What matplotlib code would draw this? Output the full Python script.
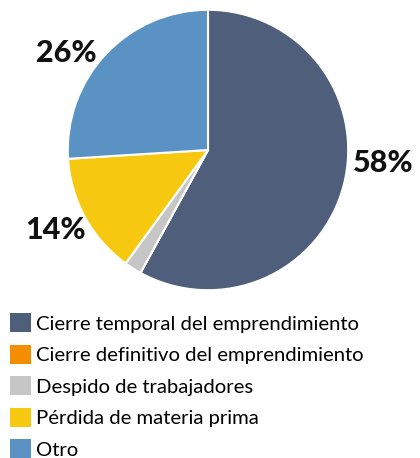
import matplotlib.pyplot as plt
from matplotlib.patches import Patch

# Motivos de afectacion (porcentaje de respuestas)
categorias = [
    "Cierre temporal del emprendimiento",
    "Cierre definitivo del emprendimiento",
    "Despido de trabajadores",
    "Pérdida de materia prima",
    "Otro",
]
porcentajes = [58, 0, 2, 14, 26]
colores = ["#4f5e7b", "#f28e00", "#c6c6c6", "#f6c80f", "#5b92c4"]

# posiciones de las etiquetas (coordenadas del eje del pie)
pos_etiquetas = {0: (1.25, -0.09), 3: (-1.09, -0.57), 4: (-1.01, 0.69)}

plt.rcParams['font.family'] = ['Lato', 'DejaVu Sans']

fig = plt.figure(figsize=(4.2, 4.58), dpi=100)
W, H = 420, 458
cx, cy, r = 208, 150, 143
ax = fig.add_axes([(cx - r) / W, 1 - (cy + r) / H, 2 * r / W, 2 * r / H])

wedges, _ = ax.pie(porcentajes, colors=colores, startangle=90, counterclock=False,
                   radius=1, wedgeprops=dict(edgecolor="white", linewidth=1.5))
ax.set_xlim(-1.02, 1.02)
ax.set_ylim(-1.02, 1.02)
ax.set_aspect("equal")
ax.axis("off")

for i, (x, y) in pos_etiquetas.items():
    ax.text(x, y, f"{porcentajes[i]}%", ha="center", va="center",
            fontsize=22, fontweight="black", color="#111111", clip_on=False)

handles = [Patch(facecolor=c, edgecolor="none") for c in colores]
fig.legend(handles, categorias, loc="upper left", bbox_to_anchor=(0.024, 0.316),
           frameon=False, fontsize=14.6, handlelength=1.05, handleheight=1.05,
           handletextpad=0.25, labelspacing=0.6, borderaxespad=0, borderpad=0)

fig.savefig("out.png", dpi=100)
